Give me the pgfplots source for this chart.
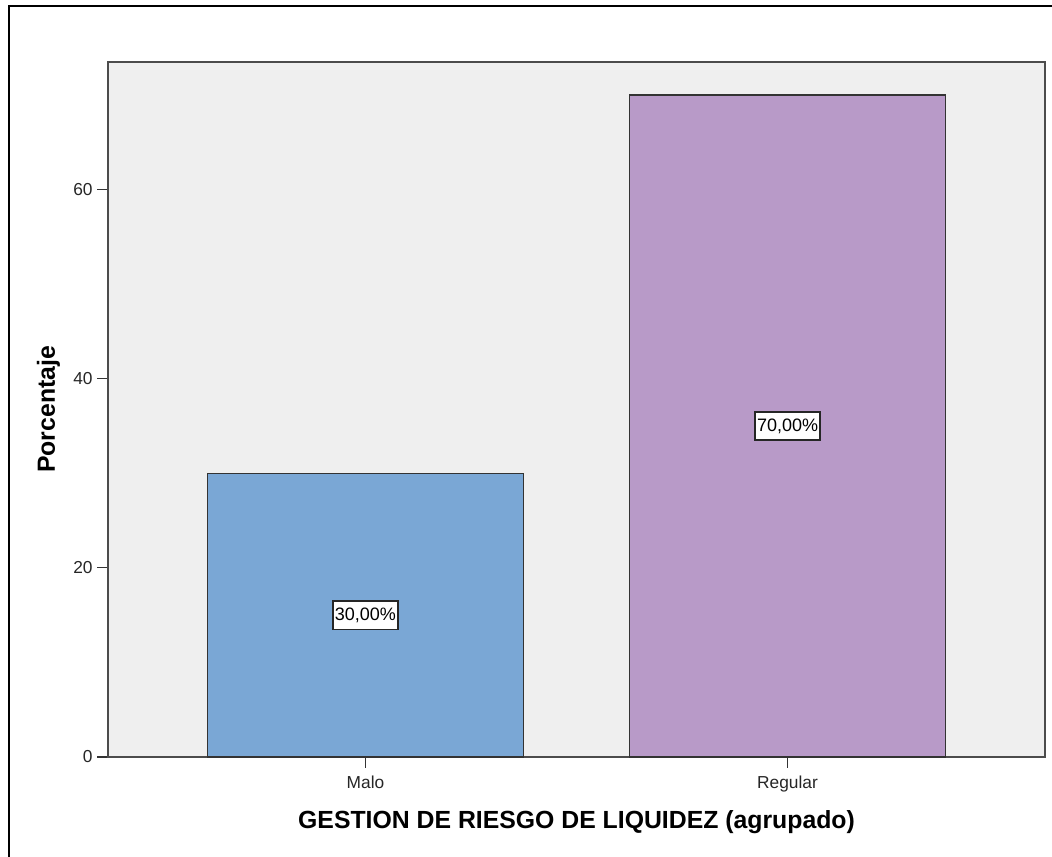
\documentclass[border=0pt]{standalone}
\usepackage{pgfplots}
\pgfplotsset{compat=1.18}
\usepackage{fontspec}
\setmainfont{Liberation Sans}
\definecolor{bgc}{RGB}{239,239,239}
\definecolor{bblue}{RGB}{122,167,213}
\definecolor{bpurple}{RGB}{184,154,200}
\begin{document}
\begin{tikzpicture}
\useasboundingbox (-81pt,-74.25pt) rectangle (708pt,567.75pt);
\draw[line width=2pt, black] (-74.25pt,-80pt) -- (-74.25pt,563.25pt) -- (720pt,563.25pt);
\begin{axis}[
  at={(0pt,0pt)}, anchor=south west,
  width=702.75pt, height=521.25pt, scale only axis,
  xmin=-0.61, xmax=1.61, ymin=0, ymax=73.5,
  axis background/.style={fill=bgc},
  xtick={0,1}, xticklabels={Malo,Regular},
  ytick={0,20,40,60},
  tick pos=left, tick align=outside,
  major tick length=8pt,
  tick style={black!80, line width=0.8pt},
  ticklabel style={font=\fontsize{13}{15}\selectfont, text=black!85},
  xticklabel style={yshift=-3pt},
  /pgf/number format/assume math mode=true,
  xlabel={GESTION DE RIESGO DE LIQUIDEZ (agrupado)},
  ylabel={Porcentaje},
  label style={font=\bfseries\fontsize{18.6}{21}\selectfont},
  xlabel style={at={(axis description cs:0.5,-0.1022)}, anchor=base},
  ylabel style={at={(axis description cs:-0.0566,0.5)}, anchor=base},
  axis line style={black!70, line width=1pt},
  clip=false,
]
\addplot[ybar, bar shift=0pt, bar width=0.75, fill=bblue, draw=black!80, line width=0.9pt] coordinates {(0,30)};
\addplot[ybar, bar shift=0pt, bar width=0.75, fill=bpurple, draw=black!80, line width=0.9pt] coordinates {(1,70)};
\addplot[draw=none, mark=none, nodes near coords, point meta=explicit symbolic,
  nodes near coords align=center,
  every node near coord/.style={fill=white, draw=black!85, line width=1pt, inner xsep=1.5pt, inner ysep=5pt, font=\fontsize{13.5}{15}\selectfont, anchor=center, text=black}]
  coordinates {(0,15) [30,00\%] (1,35) [70,00\%]};
\end{axis}
\end{tikzpicture}
\end{document}
